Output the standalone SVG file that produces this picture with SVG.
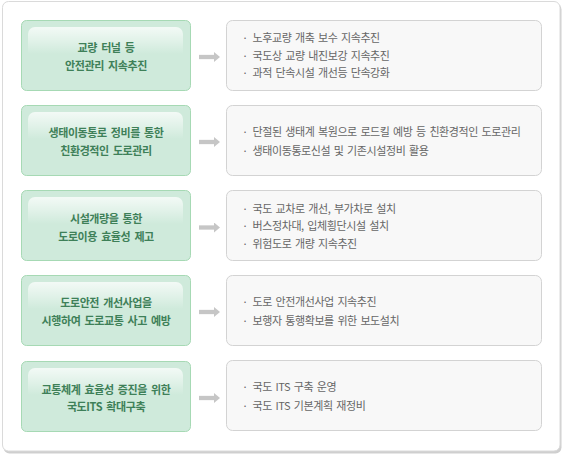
<svg xmlns="http://www.w3.org/2000/svg" width="565" height="460" viewBox="0 0 565 460">
<defs>
<linearGradient id="hl" x1="0" y1="0" x2="0" y2="1">
<stop offset="0" stop-color="#ffffff" stop-opacity="0.75"/>
<stop offset="0.55" stop-color="#ffffff" stop-opacity="0.35"/>
<stop offset="1" stop-color="#ffffff" stop-opacity="0"/>
</linearGradient>
<marker id="ah" viewBox="0 0 6 10" refX="0" refY="5" markerWidth="6" markerHeight="10" markerUnits="userSpaceOnUse" orient="auto">
<path d="M0,0 L6,5 L0,10 Z" fill="#c6c6c6"/>
</marker>
</defs>
<style>
.lbox{fill:#cfeadb;stroke:#a6d9b4;stroke-width:1}
.hl{fill:url(#hl)}
.rbox{fill:#f8f8f8;stroke:#d3d3d3;stroke-width:1}
.lt{font-family:"Noto Sans CJK KR","Noto Sans",sans-serif;font-size:11px;font-weight:bold;fill:#3e8058;text-anchor:middle;letter-spacing:-0.4px;word-spacing:2px}
.rt{font-family:"Noto Sans CJK KR","Noto Sans",sans-serif;font-size:11px;fill:#666666;letter-spacing:-0.4px;word-spacing:1.5px}
.arr{stroke:#c6c6c6;stroke-width:4.3;fill:none;marker-end:url(#ah)}
</style>
<rect x="3.5" y="3.5" width="558" height="450" rx="6" fill="#cfcfcf"/>
<rect x="2.5" y="1.5" width="557.5" height="449.5" rx="6" fill="#ffffff" stroke="#dadada"/>

<g id="connectors">
<line class="arr" x1="199" y1="57" x2="214" y2="57"/>
<line class="arr" x1="199" y1="142" x2="214" y2="142"/>
<line class="arr" x1="199" y1="227.5" x2="214" y2="227.5"/>
<line class="arr" x1="199" y1="312" x2="214" y2="312"/>
<line class="arr" x1="199" y1="398" x2="214" y2="398"/>
</g>

<g id="n1">
<rect class="lbox" x="21.5" y="20.5" width="169" height="70" rx="5"/>
<path class="hl" d="M28,34 a7,7 0 0 1 7,-7 h141 a7,7 0 0 1 7,7 v20 h-155 Z"/>
<text class="lt" x="106" y="52">교량 터널 등</text>
<text class="lt" x="106" y="69.5">안전관리 지속추진</text>
</g>
<g id="r1">
<rect class="rbox" x="226.5" y="20.5" width="315" height="70" rx="6"/>
<text class="rt" y="41.5"><tspan x="242">·</tspan><tspan x="252.5">노후교량 개축 보수 지속추진</tspan></text>
<text class="rt" y="59.5"><tspan x="242">·</tspan><tspan x="252.5">국도상 교량 내진보강 지속추진</tspan></text>
<text class="rt" y="77"><tspan x="242">·</tspan><tspan x="252.5">과적 단속시설 개선등 단속강화</tspan></text>
</g>

<g id="n2">
<rect class="lbox" x="21.5" y="105.5" width="169" height="70" rx="5"/>
<path class="hl" d="M28,119 a7,7 0 0 1 7,-7 h141 a7,7 0 0 1 7,7 v20 h-155 Z"/>
<text class="lt" x="106" y="137">생태이동통로 정비를 통한</text>
<text class="lt" x="106" y="154.5">친환경적인 도로관리</text>
</g>
<g id="r2">
<rect class="rbox" x="226.5" y="105.5" width="315" height="70" rx="6"/>
<text class="rt" y="135.5"><tspan x="242">·</tspan><tspan x="252.5">단절된 생태계 복원으로 로드킬 예방 등 친환경적인 도로관리</tspan></text>
<text class="rt" y="154.5"><tspan x="242">·</tspan><tspan x="252.5">생태이동통로신설 및 기존시설정비 활용</tspan></text>
</g>

<g id="n3">
<rect class="lbox" x="21.5" y="190.5" width="169" height="70" rx="5"/>
<path class="hl" d="M28,204 a7,7 0 0 1 7,-7 h141 a7,7 0 0 1 7,7 v20 h-155 Z"/>
<text class="lt" x="106" y="222.5">시설개량을 통한</text>
<text class="lt" x="106" y="240.5">도로이용 효율성 제고</text>
</g>
<g id="r3">
<rect class="rbox" x="226.5" y="190.5" width="315" height="70" rx="6"/>
<text class="rt" y="212.5"><tspan x="242">·</tspan><tspan x="252.5">국도 교차로 개선, 부가차로 설치</tspan></text>
<text class="rt" y="230"><tspan x="242">·</tspan><tspan x="252.5">버스정차대, 입체횡단시설 설치</tspan></text>
<text class="rt" y="247.5"><tspan x="242">·</tspan><tspan x="252.5">위험도로 개량 지속추진</tspan></text>
</g>

<g id="n4">
<rect class="lbox" x="21.5" y="275.5" width="169" height="70" rx="5"/>
<path class="hl" d="M28,289 a7,7 0 0 1 7,-7 h141 a7,7 0 0 1 7,7 v20 h-155 Z"/>
<text class="lt" x="106" y="307">도로안전 개선사업을</text>
<text class="lt" x="106" y="325">시행하여 도로교통 사고 예방</text>
</g>
<g id="r4">
<rect class="rbox" x="226.5" y="275.5" width="315" height="70" rx="6"/>
<text class="rt" y="305.5"><tspan x="242">·</tspan><tspan x="252.5">도로 안전개선사업 지속추진</tspan></text>
<text class="rt" y="324.5"><tspan x="242">·</tspan><tspan x="252.5">보행자 통행확보를 위한 보도설치</tspan></text>
</g>

<g id="n5">
<rect class="lbox" x="21.5" y="361.5" width="169" height="70" rx="5"/>
<path class="hl" d="M28,375 a7,7 0 0 1 7,-7 h141 a7,7 0 0 1 7,7 v20 h-155 Z"/>
<text class="lt" x="106" y="393.5">교통체계 효율성 증진을 위한</text>
<text class="lt" x="106" y="410.5">국도ITS 확대구축</text>
</g>
<g id="r5">
<rect class="rbox" x="226.5" y="360.5" width="315" height="70" rx="6"/>
<text class="rt" y="390.5"><tspan x="242">·</tspan><tspan x="252.5">국도 ITS 구축 운영</tspan></text>
<text class="rt" y="409.5"><tspan x="242">·</tspan><tspan x="252.5">국도 ITS 기본계획 재정비</tspan></text>
</g>
</svg>
